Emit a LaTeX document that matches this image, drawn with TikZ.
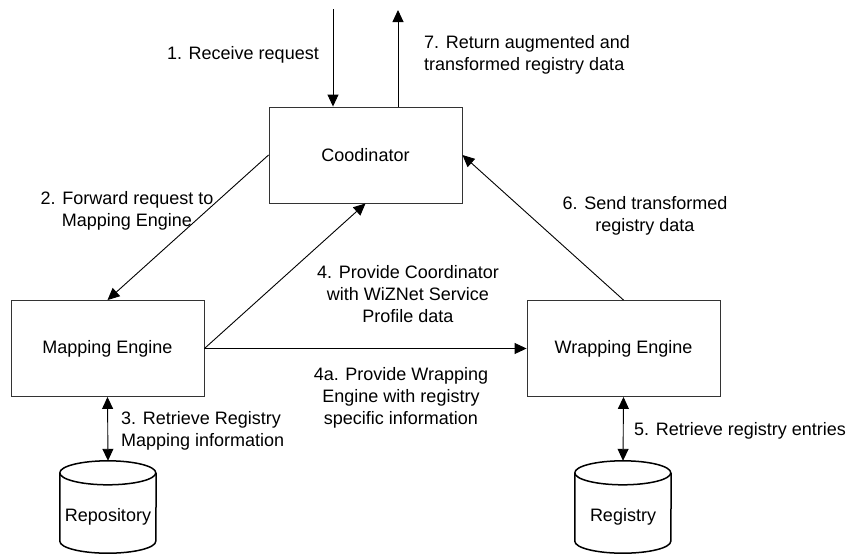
\documentclass[tikz,border=0pt]{standalone}
\usepackage{fontspec}
\setmainfont{Liberation Sans}
\usetikzlibrary{arrows.meta}

\tikzset{
  txt/.style={font=\fontsize{18pt}{22pt}\selectfont, inner sep=0pt},
  box/.style={txt, draw=black!80, line width=0.9pt, minimum width=193pt, minimum height=96pt},
  db/.style={txt, minimum width=96pt, minimum height=92pt, text height=29pt, text depth=0pt},
  dbline/.style={draw=black, line width=1.5pt},
  conn/.style={draw=black, line width=0.9pt, -{Triangle[length=12pt,width=11pt]}},
  biconn/.style={draw=black, line width=0.9pt, {Triangle[length=12pt,width=11pt]}-{Triangle[length=12pt,width=11pt]}},
  lbl/.style={txt, align=center},
  lbll/.style={txt, align=left}
}

\begin{document}
\begin{tikzpicture}[x=1pt, y=-1pt]
\useasboundingbox (0,0) rectangle (853,557);

% process boxes
\node[box] (coord) at (365.5,155) {Coodinator};
\node[box] (map)   at (107.5,348.5) {Mapping Engine};
\node[box] (wrap)  at (623.5,348.5) {Wrapping Engine};

% data stores
\node[db] (repo) at (108,507) {Repository};
\node[db] (reg)  at (623,507) {Registry};

% cylinder outlines around the store nodes
\foreach \n in {repo, reg} {
  \draw[dbline] ([yshift=-12pt]\n.north west) arc[start angle=180, end angle=-180, x radius=48pt, y radius=12pt];
  \draw[dbline] ([yshift=-12pt]\n.north west) -- ([yshift=12pt]\n.south west)
        arc[start angle=180, end angle=360, x radius=48pt, y radius=12pt]
        -- ([yshift=-12pt]\n.north east);
}

% outside request / response
\coordinate (in)  at (333,9);
\coordinate (out) at (398,10);
\draw[conn] (in) -- (coord.north -| in);
\draw[conn] (coord.north -| out) -- (out);

% message flows
\draw[conn] (coord.west) -- (map.north);
\draw[conn] (map.east) -- (coord.south);
\draw[conn] (map.east) -- (wrap.west);
\draw[conn] (wrap.north) -- (coord.east);
\draw[biconn] (map.south) -- (repo.north);
\draw[biconn] (wrap.south) -- (reg.north);

% step labels
\node[lbl, anchor=east] (l1) at (319,55) {1. Receive request};
\node[lbll, anchor=west] (l7) at (424,55) {7. Return augmented and\\transformed registry data};
\node[lbl] (l2) at (127,211) {2. Forward request to\\Mapping Engine};
\node[lbl] (l4) at (408,294) {4. Provide Coordinator\\with WiZNet Service\\Profile data};
\node[lbl] (l6) at (645,216) {6. Send transformed\\registry data};
\node[lbl] (l4a) at (401,398) {4a. Provide Wrapping\\Engine with registry\\specific information};
\node[lbll, anchor=west] (l3) at (121,431) {3. Retrieve Registry\\Mapping information};
\node[lbll, anchor=west] (l5) at (634,431) {5. Retrieve registry entries};
\end{tikzpicture}
\end{document}
